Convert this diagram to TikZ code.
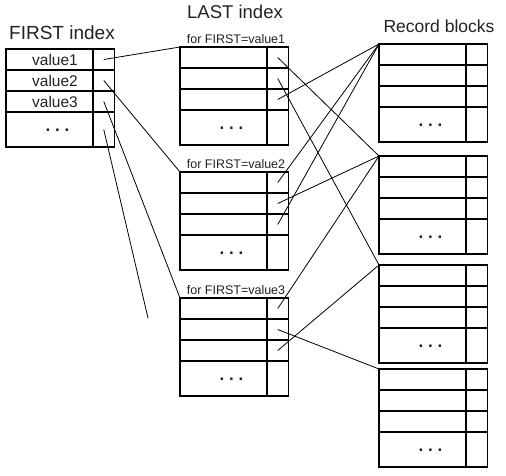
\documentclass[tikz,border=0pt]{standalone}
\usepackage{fontspec}
\setmainfont{Liberation Sans}
\usetikzlibrary{positioning}
\definecolor{ink}{HTML}{222222}

\begin{document}
\begin{tikzpicture}[x=1pt,y=-1pt,
    cell/.style={draw, line width=1.3pt, rectangle, inner sep=0pt, outer sep=0pt,
                 minimum width=87pt, minimum height=21pt},
    ptr/.style={cell, minimum width=21.5pt},
    tall/.style={minimum height=35pt},
    link/.style={line width=0.8pt},
    title/.style={text=ink, inner sep=0pt, anchor=base},
    sub/.style={text=ink, inner sep=0pt, anchor=base, font=\fontsize{12.5}{14}\selectfont},
    val/.style={text=ink, inner sep=0pt, font=\fontsize{15.5}{18}\selectfont},
    dots/.style={text=ink, inner sep=0pt, anchor=base, font=\fontsize{17}{20}\selectfont\bfseries}]
\useasboundingbox (0,0) rectangle (506,475);

% blocks: FIRST index, LAST index (3), record blocks (4)
\foreach \b/\x/\y in {fi/6/49, la1/180/47, la2/180/172, la3/180/298,
                      rb1/379/44, rb2/379/156, rb3/379/265, rb4/379/369} {
    \node[cell, anchor=north west] (\b-1) at (\x,\y) {};
    \node[ptr, right=0pt of \b-1] (\b-1p) {};
    \node[cell, below=0pt of \b-1] (\b-2) {};
    \node[ptr, right=0pt of \b-2] (\b-2p) {};
    \node[cell, below=0pt of \b-2] (\b-3) {};
    \node[ptr, right=0pt of \b-3] (\b-3p) {};
    \node[cell, tall, below=0pt of \b-3] (\b-4) {};
    \node[ptr, tall, right=0pt of \b-4] (\b-4p) {};
    \node[dots] (\b-dots) at ([shift={(8,2)}]\b-4.center) {.\ .\ .};
}

% headings
\node[title, font=\fontsize{19}{22}\selectfont] (firsthead) at (62,39) {FIRST index};
\node[title, font=\fontsize{18.5}{22}\selectfont] (lasthead) at (235,18) {LAST index};
\node[title, font=\fontsize{17.5}{21}\selectfont] (recordhead) at (439,32) {Record blocks};

\node[val] (v1) at ([xshift=5.5]fi-1.center) {value1};
\node[val] (v2) at ([xshift=5.5]fi-2.center) {value2};
\node[val] (v3) at ([xshift=5.5]fi-3.center) {value3};

\node[sub] (for1) at ([shift={(56,-4)}]la1-1.north west) {for FIRST=value1};
\node[sub] (for2) at ([shift={(56,-4)}]la2-1.north west) {for FIRST=value2};
\node[sub] (for3) at ([shift={(56,-4)}]la3-1.north west) {for FIRST=value3};

% pointers
\coordinate (loose) at (148,318);
\draw[link] (fi-1p.center) -- (la1-1.north west);
\draw[link] (fi-2p.center) -- (la2-1.north west);
\draw[link] (fi-3p.center) -- (la3-1.north west);
\draw[link] (fi-4p.center) -- (loose);

\draw[link] (la1-1p.center) -- (rb2-1.north west);
\draw[link] (la1-2p.center) -- (rb3-1.north west);
\draw[link] (la1-3p.center) -- (rb1-1.north west);
\draw[link] (la2-1p.center) -- (rb1-1.north west);
\draw[link] (la2-2p.center) -- (rb2-1.north west);
\draw[link] (la2-3p.center) -- (rb1-1.north west);
\draw[link] (la3-1p.center) -- (rb2-1.north west);
\draw[link] (la3-2p.center) -- (rb4-1.north west);
\draw[link] (la3-3p.center) -- (rb3-1.north west);
\end{tikzpicture}
\end{document}
